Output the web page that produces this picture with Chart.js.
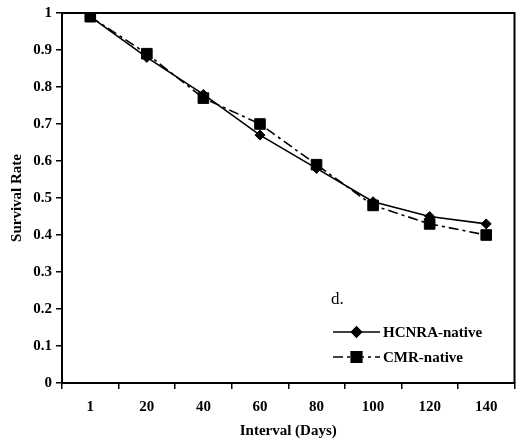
<!DOCTYPE html>
<html>
<head>
<meta charset="utf-8">
<script src="https://cdn.jsdelivr.net/npm/chart.js@4"></script>
<style>
  html, body { margin: 0; padding: 0; background: #fff; }
  #wrap { width: 523px; height: 440px; position: relative; }
</style>
</head>
<body>
<div id="wrap"><canvas id="survivalChart" width="523" height="440"></canvas></div>
<script>
// ===== Data =====
const intervals = ['1', '20', '40', '60', '80', '100', '120', '140'];
const hcnraNative = [0.99, 0.88, 0.78, 0.67, 0.58, 0.49, 0.45, 0.43];
const cmrNative = [0.99, 0.89, 0.77, 0.70, 0.59, 0.48, 0.43, 0.40];
const yTicks = [0, 0.1, 0.2, 0.3, 0.4, 0.5, 0.6, 0.7, 0.8, 0.9, 1];

const serif = '"Liberation Serif", "Times New Roman", serif';

// ===== Frame + in-plot legend =====
const framePlugin = {
  id: 'frame',
  afterDraw(chart) {
    const { ctx, chartArea: a } = chart;
    ctx.save();
    ctx.strokeStyle = '#000';
    ctx.lineWidth = 2;
    ctx.beginPath();
    ctx.moveTo(a.left, a.top);
    ctx.lineTo(a.right, a.top);
    ctx.lineTo(a.right, a.bottom);
    ctx.stroke();

    // panel letter
    ctx.fillStyle = '#000';
    ctx.font = '17px ' + serif;
    ctx.textBaseline = 'middle';
    ctx.fillText('d.', 331, 300);

    // legend rows
    ctx.font = 'bold 15px ' + serif;
    chart.data.datasets.forEach((ds, i) => {
      const y = 332 + i * 25;
      const x0 = 333, x1 = 380;
      ctx.strokeStyle = ds.borderColor;
      ctx.lineWidth = ds.borderWidth;
      ctx.setLineDash(ds.borderDash || []);
      ctx.beginPath();
      ctx.moveTo(x0, y);
      ctx.lineTo(x1, y);
      ctx.stroke();
      ctx.setLineDash([]);
      Chart.helpers.drawPoint(ctx, {
        pointStyle: ds.pointStyle,
        radius: ds.pointRadius,
        rotation: 0,
        borderWidth: 1
      }, (x0 + x1) / 2, y);
      ctx.fillStyle = '#000';
      ctx.fillText(ds.label, 383, y + 1);
    });
    ctx.restore();
  }
};

const ctx = document.getElementById('survivalChart').getContext('2d');
new Chart(ctx, {
  type: 'line',
  data: {
    labels: intervals,
    datasets: [
      {
        label: 'HCNRA-native',
        data: hcnraNative,
        borderColor: '#000',
        backgroundColor: '#000',
        borderWidth: 1.6,
        pointStyle: 'rectRot',
        pointRadius: 5,
        pointBorderWidth: 1,
        tension: 0
      },
      {
        label: 'CMR-native',
        data: cmrNative,
        borderColor: '#000',
        backgroundColor: '#000',
        borderWidth: 1.6,
        borderDash: [10, 4, 3, 4],
        pointStyle: 'rect',
        pointRadius: 7.5,
        pointBorderWidth: 1,
        tension: 0
      }
    ]
  },
  options: {
    responsive: false,
    animation: false,
    layout: { padding: { top: 13, right: 5, left: 8, bottom: 0 } },
    plugins: {
      legend: { display: false },
      tooltip: { enabled: false }
    },
    scales: {
      x: {
        type: 'category',
        offset: true,
        grid: {
          display: true,
          drawOnChartArea: false,
          drawTicks: true,
          tickLength: 6,
          tickColor: '#000',
          lineWidth: 1.5,
          offset: true
        },
        border: { display: true, color: '#000', width: 2 },
        ticks: {
          color: '#000',
          font: { family: serif, size: 15, weight: 'bold' },
          padding: 9,
          maxRotation: 0
        },
        title: {
          display: true,
          text: 'Interval (Days)',
          color: '#000',
          font: { family: serif, size: 15, weight: 'bold' },
          padding: { top: 3, bottom: 0 }
        },
        afterFit(scale) { scale.height = 57; }
      },
      y: {
        min: 0,
        max: 1,
        afterBuildTicks(scale) {
          scale.ticks = yTicks.map(v => ({ value: v }));
        },
        grid: {
          display: true,
          drawOnChartArea: false,
          drawTicks: true,
          tickLength: 6,
          tickColor: '#000',
          lineWidth: 1.5
        },
        border: { display: true, color: '#000', width: 2 },
        ticks: {
          color: '#000',
          font: { family: serif, size: 15, weight: 'bold' },
          padding: 4,
          callback: v => String(Math.round(v * 10) / 10)
        },
        title: {
          display: true,
          text: 'Survival Rate',
          color: '#000',
          font: { family: serif, size: 15, weight: 'bold' },
          padding: { top: 0, bottom: 4 }
        },
        afterFit(scale) { scale.width = 54; }
      }
    }
  },
  plugins: [framePlugin]
});
</script>
</body>
</html>
